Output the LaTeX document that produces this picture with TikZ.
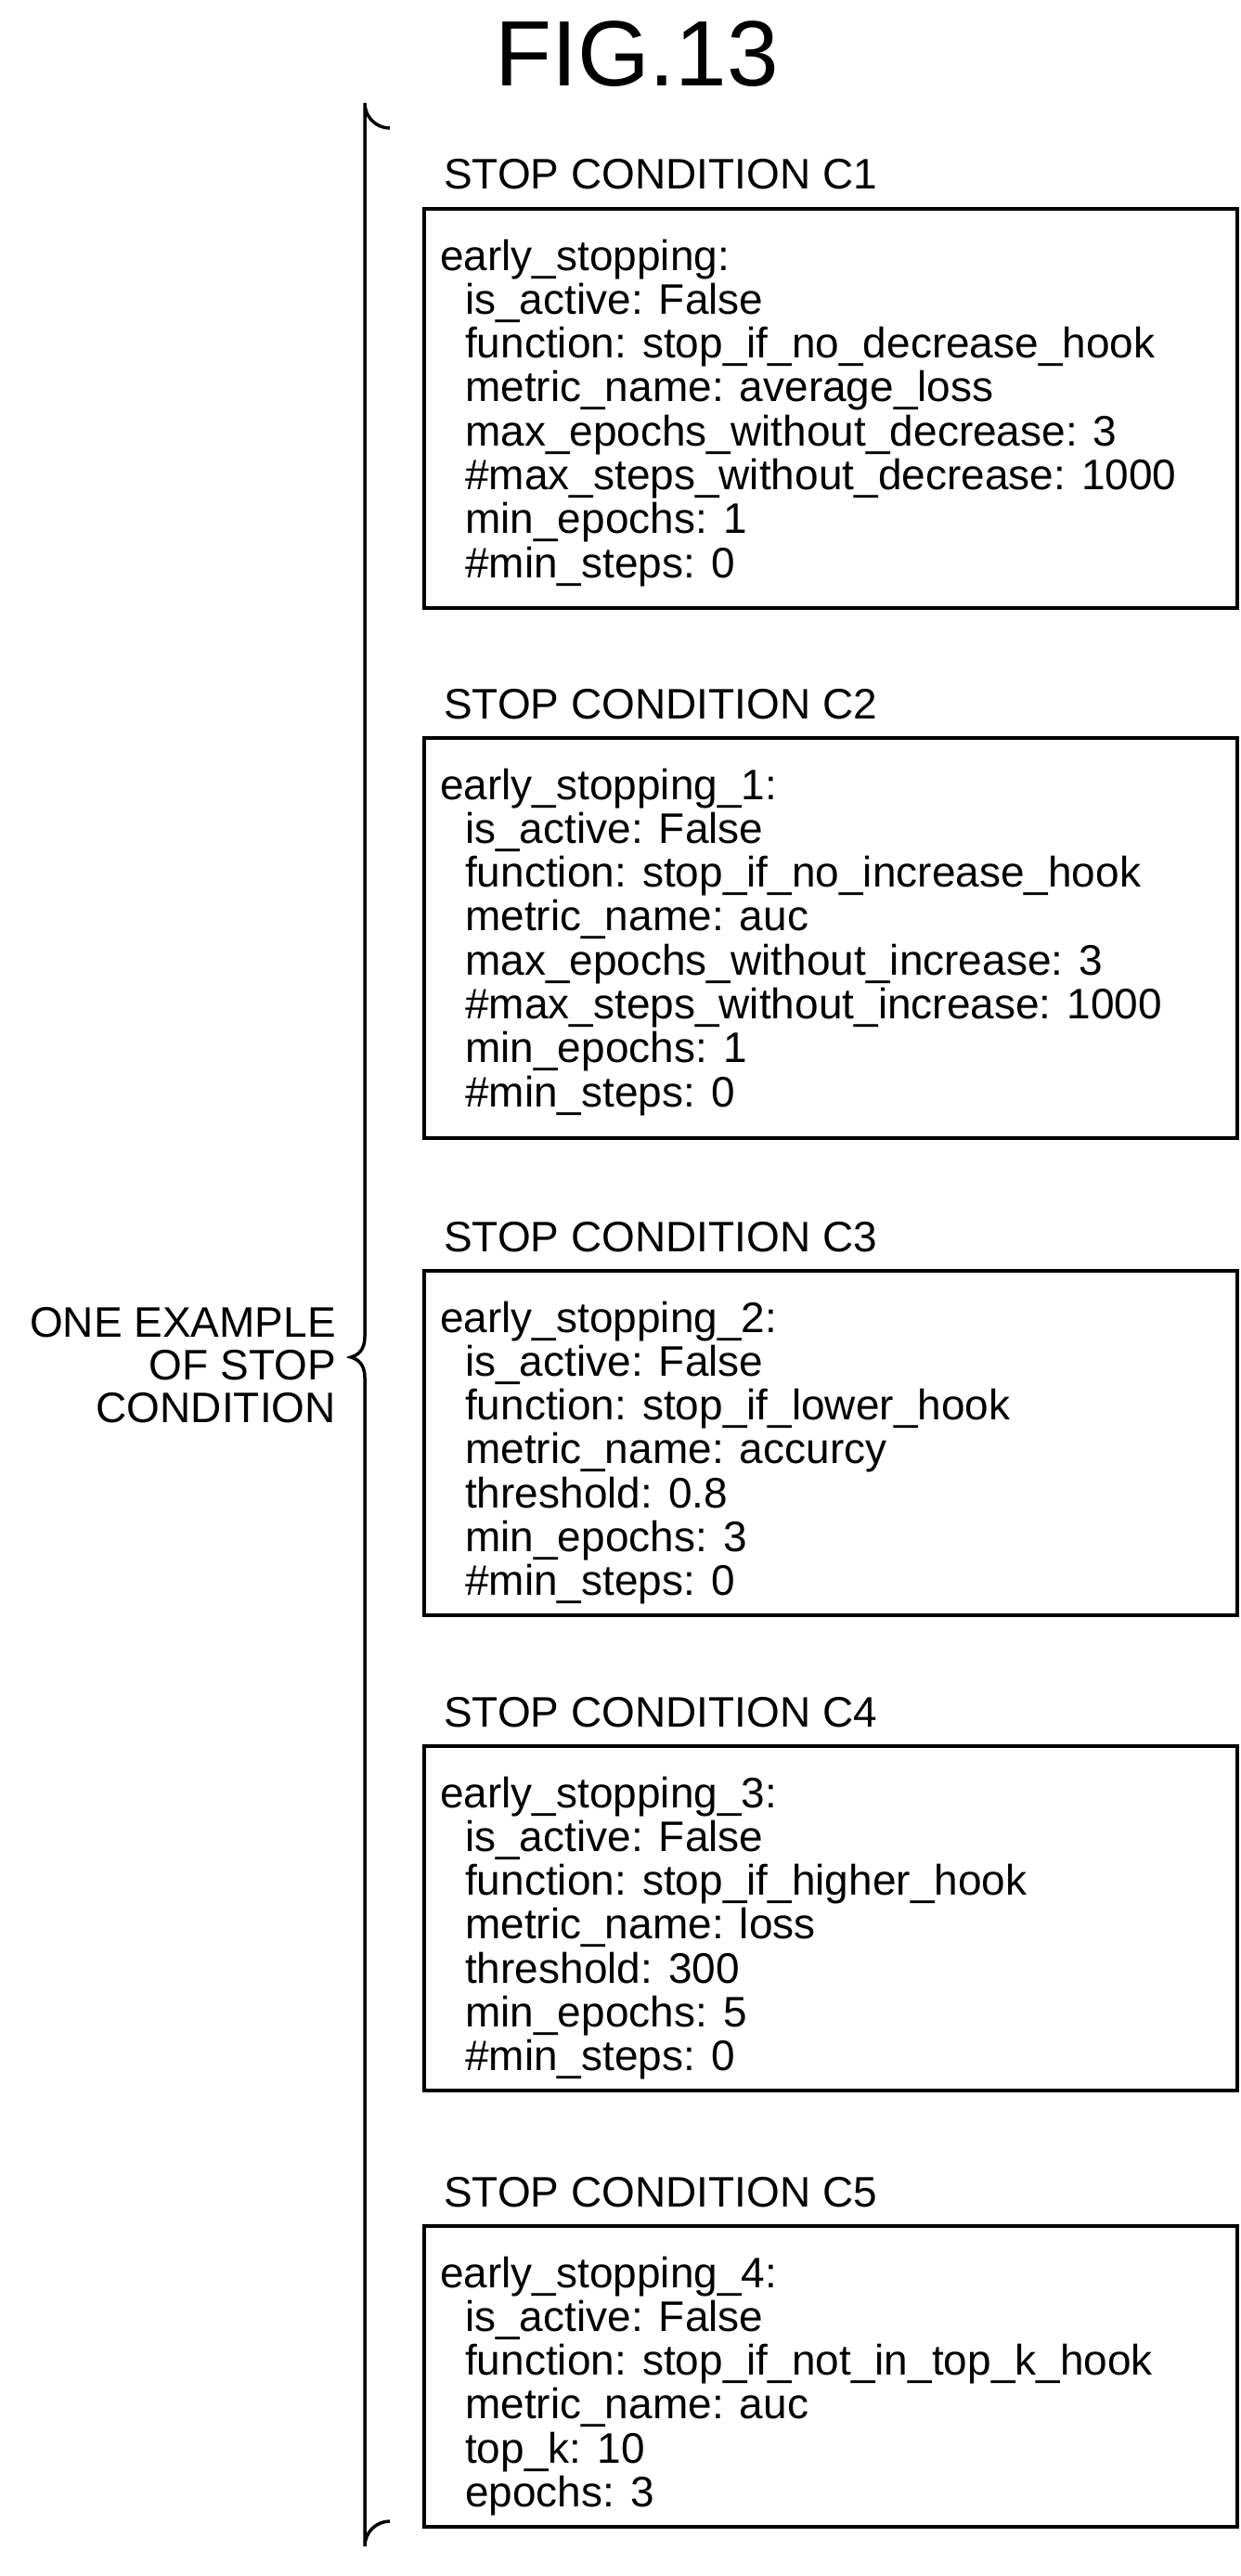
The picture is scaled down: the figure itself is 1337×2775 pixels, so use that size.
\documentclass[tikz,border=0pt]{standalone}
\usepackage{fontspec}
\setmainfont{Liberation Sans}
\begin{document}
\begin{tikzpicture}[x=1pt,y=-1pt,
  txt/.style={font=\fontsize{46}{48}\selectfont,inner sep=0pt,anchor=base west},
  frame/.style={draw,line width=4pt},
  lbl/.style={font=\fontsize{46}{48}\selectfont,inner sep=0pt,anchor=base east}]
\useasboundingbox (0,0) rectangle (1337,2775);
\node[font=\fontsize{100}{110}\selectfont,inner sep=0pt,anchor=base] (title) at (686,93) {FIG.13};
% brace
\draw[line width=3.5pt] (420,138) arc[start angle=90,end angle=180,radius=27] -- (393,1440)
  .. controls (393,1455) and (385,1460) .. (378,1462) coordinate (tip)
  .. controls (385,1464) and (393,1469) .. (393,1484) -- (393,2743) arc[start angle=180,end angle=270,radius=27];
\node[lbl] (l1) at (362,1440) {ONE EXAMPLE};
\node[lbl] (l2) at (362,1486) {OF STOP};
\node[lbl] (l3) at (362,1532) {CONDITION};
\newcommand{\cbox}[5]{%
  \node[txt] (#1lab) at (478,#2-21) {#4};
  \draw[frame] (457,#2) rectangle (1333,#3);
  \coordinate (#1box) at (457,#2);
  \foreach \t [count=\i] in {#5}{
    \pgfmathsetmacro{\xx}{\i==1 ? 474 : 501}
    \node[txt] (#1t\i) at (\xx,#2+66+47.3*\i-47.3) {\t};
  }}
\cbox{a}{225}{655}{STOP CONDITION C1}{early\_stopping:,is\_active: False,function: stop\_if\_no\_decrease\_hook,metric\_name: average\_loss,max\_epochs\_without\_decrease: 3,\#max\_steps\_without\_decrease: 1000,min\_epochs: 1,\#min\_steps: 0}
\cbox{b}{795}{1226}{STOP CONDITION C2}{early\_stopping\_1:,is\_active: False,function: stop\_if\_no\_increase\_hook,metric\_name: auc,max\_epochs\_without\_increase: 3,\#max\_steps\_without\_increase: 1000,min\_epochs: 1,\#min\_steps: 0}
\cbox{c}{1369}{1740}{STOP CONDITION C3}{early\_stopping\_2:,is\_active: False,function: stop\_if\_lower\_hook,metric\_name: accurcy,threshold: 0.8,min\_epochs: 3,\#min\_steps: 0}
\cbox{d}{1881}{2252}{STOP CONDITION C4}{early\_stopping\_3:,is\_active: False,function: stop\_if\_higher\_hook,metric\_name: loss,threshold: 300,min\_epochs: 5,\#min\_steps: 0}
\cbox{e}{2398}{2722}{STOP CONDITION C5}{early\_stopping\_4:,is\_active: False,function: stop\_if\_not\_in\_top\_k\_hook,metric\_name: auc,top\_k: 10,epochs: 3}
\end{tikzpicture}
\end{document}
